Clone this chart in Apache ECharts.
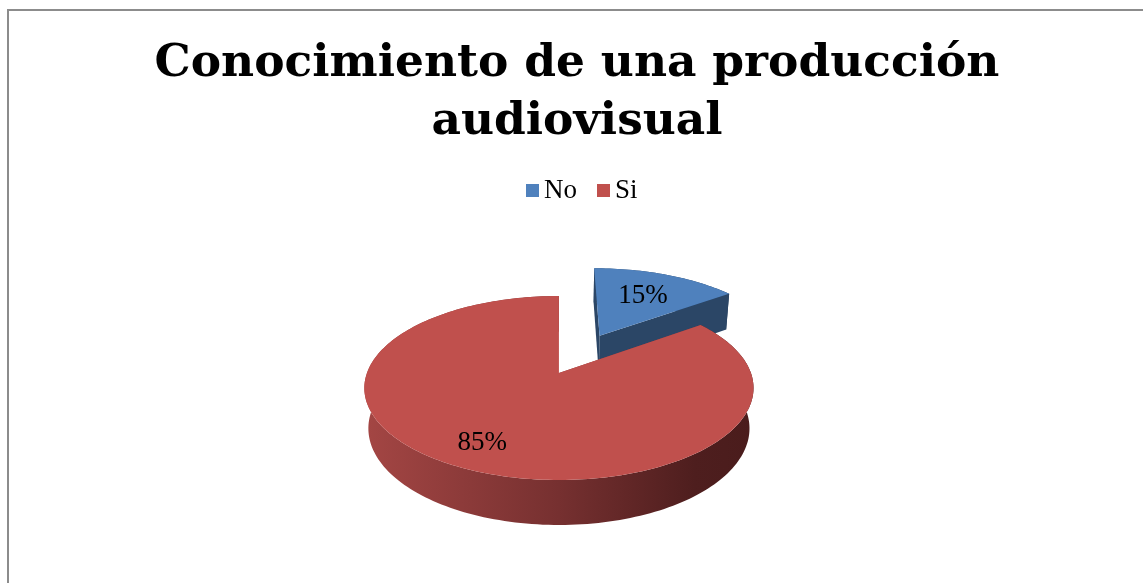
<!DOCTYPE html>
<html>
<head>
<meta charset="utf-8">
<script src="https://cdn.jsdelivr.net/npm/echarts@6/dist/echarts.min.js"></script>
<style>
  html, body { margin: 0; padding: 0; background: #fff; }
  #chart { width: 1143px; height: 583px; }
</style>
</head>
<body>
<div id="chart"></div>
<script>
// datos
const categories = ["No", "Si"];
const values = [15, 85];
const topColors = ["#4f81bd", "#c0504d"];
const titleText = "Conocimiento de una producción\naudiovisual";

// estilo 3D (vista en perspectiva, tipo Excel)
const explode = [0.5, 0];       // separación de la porción, en radios
const labelDist = [0.62, 0.78]; // posición de la etiqueta sobre la cara superior
const sideStops = [
  [[0, "#2f4e74"], [1, "#223a57"]],
  [[0, "#a44644"], [0.5, "#763030"], [0.85, "#4e1e1e"], [1, "#4a1c1c"]],
];
const radialColors = ["#2b4666", "#8e3a38"];

const total = values.reduce((a, b) => a + b, 0);
const PHI = 27.8 * Math.PI / 180;
const DIST = 5.42;   // distancia de la cámara, en radios
const THICK = 0.24;  // grosor del disco, en radios

function makeProj(cx, cy, R) {
  const F = R * DIST, s = Math.sin(PHI), c = Math.cos(PHI);
  return function (X, Y, Z) {
    const depth = DIST - Y * s + Z * c;
    const up = Y * c + Z * s;
    return [cx + F * X / depth, cy - F * up / depth];
  };
}

function renderSlice(idx) {
  return function (params, api) {
    const W = api.getWidth();
    const proj = makeProj(W * 0.489, 373, 192);
    let before = 0;
    for (let k = 0; k < idx; k++) before += values[k];
    const v = api.value(0);
    const a0 = 2 * Math.PI * before / total;
    const a1 = 2 * Math.PI * (before + v) / total;
    const mid = (a0 + a1) / 2;
    const ox = explode[idx] * Math.sin(mid);
    const oz = explode[idx] * Math.cos(mid);

    const N = Math.max(8, Math.round((a1 - a0) * 40));
    const topArc = [], botArc = [];
    for (let k = 0; k <= N; k++) {
      const t = a0 + (a1 - a0) * k / N;
      topArc.push(proj(ox + Math.sin(t), 0, oz + Math.cos(t)));
      botArc.push(proj(ox + Math.sin(t), -THICK, oz + Math.cos(t)));
    }
    const cTop = proj(ox, 0, oz);
    const cBot = proj(ox, -THICK, oz);

    const children = [];
    // pared exterior
    children.push({
      type: "polygon",
      shape: { points: topArc.concat(botArc.slice().reverse()) },
      style: {
        fill: {
          type: "linear", x: 0, y: 0, x2: 1, y2: 0,
          colorStops: sideStops[idx].map(s => ({ offset: s[0], color: s[1] })),
        },
      },
    });
    // paredes radiales
    [0, N].forEach(k => {
      children.push({
        type: "polygon",
        shape: { points: [cTop, topArc[k], botArc[k], cBot] },
        style: { fill: radialColors[idx] },
      });
    });
    // cara superior
    children.push({
      type: "polygon",
      shape: { points: [cTop].concat(topArc) },
      style: { fill: topColors[idx] },
    });
    // etiqueta
    const lp = proj(ox + labelDist[idx] * Math.sin(mid), 0, oz + labelDist[idx] * Math.cos(mid));
    children.push({
      type: "text",
      x: lp[0], y: lp[1],
      style: {
        text: Math.round(v / total * 100) + "%",
        fill: "#000",
        font: "27px 'Liberation Serif'",
        align: "center",
        verticalAlign: "middle",
      },
    });
    return { type: "group", children };
  };
}

const chart = echarts.init(document.getElementById("chart"), null, { renderer: "canvas" });

chart.setOption({
  animation: false,
  legend: {
    top: 172,
    left: 521,
    icon: "rect",
    itemWidth: 13,
    itemHeight: 13,
    itemGap: 20,
    data: categories,
    textStyle: { fontFamily: "Liberation Serif", fontSize: 27, color: "#000" },
  },
  graphic: [
    {
      type: "rect",
      shape: { x: 8, y: 10, width: 1200, height: 700 },
      style: { fill: "none", stroke: "#8c8c8c", lineWidth: 2 },
      silent: true,
    },
    {
      type: "text",
      x: 577,
      y: 35,
      style: {
        text: titleText,
        align: "center",
        fill: "#000",
        fontFamily: "DejaVu Serif",
        fontWeight: "bold",
        fontSize: 45.5,
        lineHeight: 58,
      },
    },
  ],
  series: categories.map((name, i) => ({
    name,
    type: "custom",
    coordinateSystem: "none",
    itemStyle: { color: topColors[i] },
    data: [[values[i]]],
    renderItem: renderSlice(i),
  })),
});
</script>
</body>
</html>
